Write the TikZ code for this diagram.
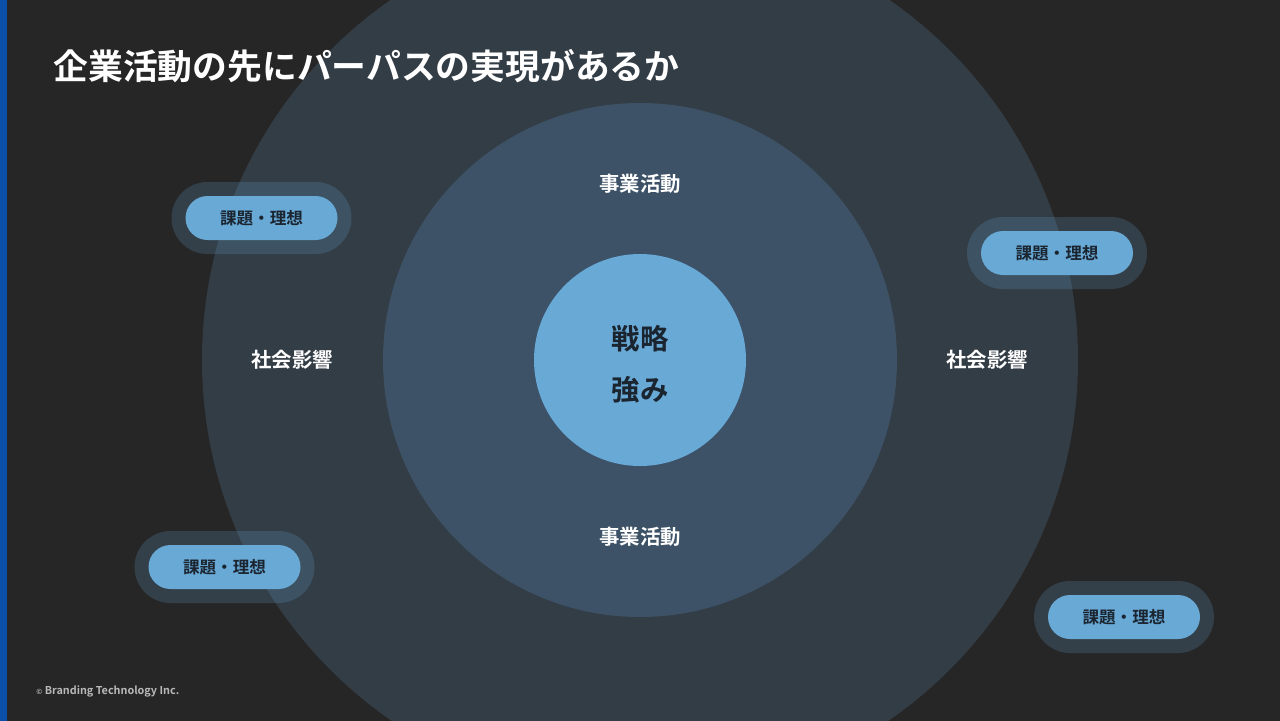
\documentclass[tikz,border=0pt]{standalone}
\usepackage{fontspec}
\setmainfont{Noto Sans CJK JP}
\newfontfamily\jpbold{Noto Sans CJK JP Bold}
\usetikzlibrary{positioning}

\definecolor{bgdark}{HTML}{262626}
\definecolor{barblue}{HTML}{0A50A8}
\definecolor{ringout}{HTML}{333D46}
\definecolor{ringmid}{HTML}{3D5266}
\definecolor{skyblue}{HTML}{68A9D6}
\definecolor{inkdark}{HTML}{1B2530}

\begin{document}
\begin{tikzpicture}[x=0.5pt,y=-0.5pt,
  pill/.style={rounded corners=11pt,fill=skyblue,minimum width=76pt,minimum height=22pt,
    inner sep=0pt,text=inkdark,font=\jpbold\fontsize{8.3}{10}\selectfont},
  halo/.style={rounded corners=18pt,fill=skyblue,fill opacity=0.2,minimum width=90pt,
    minimum height=36pt,inner sep=0pt},
  ringlabel/.style={text=white,font=\jpbold\fontsize{10.2}{12}\selectfont},
  corelabel/.style={text=inkdark,font=\jpbold\fontsize{14.2}{16}\selectfont}]
\useasboundingbox (0,0) rectangle (1280,720);
\fill[bgdark] (-2,-2) rectangle (1282,722);

\coordinate (O) at (640,360);

\begin{scope}
\clip (-2,-2) rectangle (1282,722);
\fill[ringout] (O) circle[radius=219pt];
\end{scope}
\fill[ringmid] (O) circle[radius=128.5pt];
\fill[skyblue] (O) circle[radius=53pt];

\fill[barblue] (-2,-2) rectangle (7,722);

% title
\node[anchor=west,inner sep=0pt,text=white,font=\jpbold\fontsize{17.4}{20}\selectfont] (title) at (53,66) {企業活動の先にパーパスの実現があるか};

% rings
\node[ringlabel] (bizTop) at (640,184) {事業活動};
\node[ringlabel] (bizBot) at (640,537) {事業活動};
\node[ringlabel] (socLeft) at (292,360) {社会影響};
\node[ringlabel] (socRight) at (987,360) {社会影響};
\node[corelabel] (strat) at (640,339) {戦略};
\node[corelabel] (power) at (640,390) {強み};

% issue pills
\foreach \px/\py/\nm in {261.5/218/pillA,1057/253/pillB,224.5/567/pillC,1124/617/pillD}{
  \node[halo] (\nm-h) at (\px,\py) {};
  \node[pill] (\nm) at (\px,\py) {課題・理想};
}

% footer
\node[anchor=west,inner sep=0pt,text=white!72!black,font=\jpbold\fontsize{5.4}{6}\selectfont] (credit) at (36,691)
  {{\fontsize{3.5}{4}\selectfont ©} Branding Technology Inc.};
\end{tikzpicture}
\end{document}
